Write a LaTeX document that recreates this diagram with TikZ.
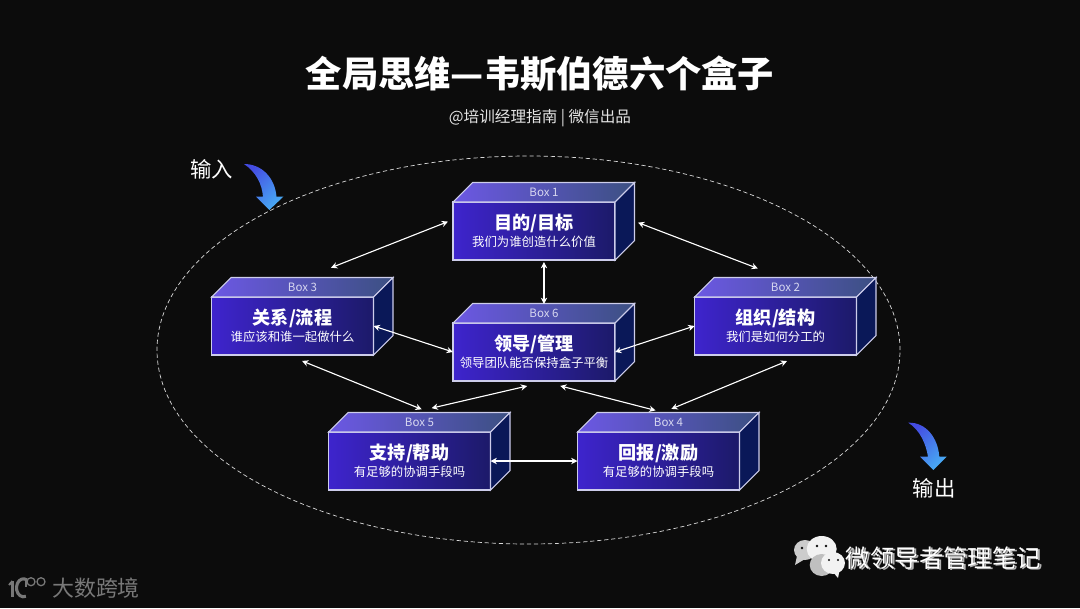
\documentclass[tikz,border=0pt]{standalone}
\usepackage{fontspec}
\setmainfont{Noto Sans CJK SC}
\usepackage{xcolor}
\usetikzlibrary{shapes.geometric, arrows.meta, positioning, calc}
\definecolor{pagedark}{RGB}{12,12,12}
\definecolor{frontleft}{RGB}{62,36,205}
\definecolor{frontmid}{RGB}{50,30,170}
\definecolor{frontright}{RGB}{28,26,105}
\definecolor{topleft}{RGB}{108,88,228}
\definecolor{topright}{RGB}{60,80,130}
\definecolor{sidenavy}{RGB}{10,24,88}
\definecolor{edgeline}{RGB}{205,205,235}
\definecolor{labelgray}{RGB}{215,215,240}
\definecolor{logogray}{RGB}{120,120,120}
\definecolor{flowviolet}{RGB}{68,76,226}
\definecolor{flowblue}{RGB}{72,170,244}
\def\px{0.025cm}
% one box: name, x, y, box label, title, line below the title
\newcommand{\cubebox}[6]{
  \node[frontface] (#1) at (#2,#3) {{\fontsize{12.9}{15}\selectfont\bfseries #5}\\{\fontsize{8.8}{10}\selectfont #6}};
  \draw[topface] (#1.north west) -- ++(19.5,-19.5) -- ++(162,0) -- (#1.north east) -- cycle;
  \draw[sideface] (#1.north east) -- ++(19.5,-19.5) -- ++(0,58) -- (#1.south east) -- cycle;
  \node[boxlabel] (#1label) at ($(#1.north)+(10,-10)$) {#4};
}
\begin{document}
\begin{tikzpicture}[x=\px, y=-\px,
  frontface/.style={rectangle, draw=edgeline, line width=0.75pt, left color=frontleft, middle color=frontmid, right color=frontright, minimum width=162*\px, minimum height=58*\px, inner sep=0pt, outer sep=0pt, align=center, text=white},
  topface/.style={draw=edgeline, line width=0.75pt, left color=topleft, right color=topright},
  sideface/.style={draw=edgeline, line width=0.75pt, fill=sidenavy},
  boxlabel/.style={font=\fontsize{8.2}{10}\selectfont, text=labelgray, inner sep=0pt},
  link/.style 2 args={{Stealth[length=4.5pt,width=4.5pt]}-{Stealth[length=4.5pt,width=4.5pt]}, white, line width=0.8pt, shorten <=#1*\px, shorten >=#2*\px},
  flow/.style={left color=flowviolet, right color=flowblue, shading angle=45, draw=none},
  lbl/.style={text=white, inner sep=0pt, align=center},
]
  \fill[pagedark] (0,0) rectangle (1080,608);
  \useasboundingbox (0,0) rectangle (1080,608);

  % Title
  \node[lbl, font=\fontsize{25.8}{30}\selectfont\bfseries] (title) at (540,74) {全局思维—韦斯伯德六个盒子};
  \node[lbl, font=\fontsize{11.1}{13}\selectfont, text=white!90!black] (subtitle) at (540,118) {@培训经理指南 | 微信出品};

  % Outer field
  \node[ellipse, draw=white!85!black, densely dashed, line width=0.5pt, minimum width=743*\px, minimum height=388*\px, inner sep=0pt] (field) at (528.5,350) {};

  % Boxes
  \cubebox{box1}{534}{231}{Box 1}{目的/目标}{我们为谁创造什么价值}
  \cubebox{box2}{775.5}{326}{Box 2}{组织/结构}{我们是如何分工的}
  \cubebox{box3}{292.5}{326}{Box 3}{关系/流程}{谁应该和谁一起做什么}
  \cubebox{box4}{658.5}{461}{Box 4}{回报/激励}{有足够的协调手段吗}
  \cubebox{box5}{409.5}{461}{Box 5}{支持/帮助}{有足够的协调手段吗}
  \cubebox{box6}{534}{352}{Box 6}{领导/管理}{领导团队能否保持盒子平衡}

  % Links
  \draw[link={5.4}{79.9}] (box1.172.3) -- (box3.141.8);
  \draw[link={24.7}{79.9}] (box1.12.5) -- (box2.27.8);
  \draw[link={2}{19}] (box1.-71.9) -- (box6.71.9);
  \draw[link={0}{0}] (box3.east) -- (box6.west);
  \draw[link={0}{0}] (box6.east) -- (box2.west);
  \draw[link={15.8}{60.5}] (box3.-100) -- (box5.23.9);
  \draw[link={15.8}{60.5}] (box2.-48) -- (box4.146.9);
  \draw[link={105.8}{22.2}] (box5.north west) -- (box6.-63.3);
  \draw[link={19.6}{86.7}] (box6.-76.4) -- (box4.north east);
  \draw[link={0}{0}] (box5.east) -- (box4.west);

  % Input and output
  \node[lbl, font=\fontsize{15.2}{18}\selectfont] (inlabel) at (211.5,169) {输入};
  \shade[flow] (244,164) .. controls (262,164) and (275,178) .. (276.5,196.7) -- (283.3,196.7) -- (269.3,210) -- (256,196.7) -- (263,196.7) .. controls (262,184) and (256,172) .. (244,164) -- cycle;
  \node[lbl, font=\fontsize{15.2}{18}\selectfont] (outlabel) at (934,488) {输出};
  \shade[flow] (908.3,422.7) .. controls (926,422) and (938,438) .. (939.3,456.7) -- (946.7,456.7) -- (933.3,470) -- (920,456.7) -- (928,456.7) .. controls (926,444) and (920,430) .. (908.3,422.7) -- cycle;

  % Logo, bottom left
  \draw[logogray, line width=2.2pt] (12.5,581) -- (12.5,597);
  \draw[logogray, line width=1.4pt] (9,585) -- (12.5,581);
  \draw[logogray, line width=2.2pt] (27,580) arc (-60:-290:7 and 9);
  \draw[logogray, line width=0.9pt] (26,578) -- (26,587);
  \draw[logogray, line width=0.9pt] (31,581.7) circle (4);
  \draw[logogray, line width=0.9pt] (41,581.7) circle (4);
  \node[lbl, text=logogray, font=\fontsize{15.6}{18}\selectfont] (brand) at (96,588) {大数跨境};

  % Mark, bottom right
  \fill[white!80!black] (805,550) ellipse (11 and 10);
  \fill[white!80!black] (797,556) -- (795,565) -- (805,559) -- cycle;
  \fill[white!95!black] (821.7,549) ellipse (15 and 13);
  \fill[white!75!black] (821.7,565) ellipse (12 and 11);
  \fill[white!95!black] (833,563) ellipse (12 and 11);
  \fill[white!95!black] (833,572) -- (838,578) -- (840,568) -- cycle;
  \fill[pagedark] (802,548) circle (1.4) (817,546) circle (1.4) (826,546) circle (1.4) (829,560) circle (1.2) (838,560) circle (1.2);
  \node[lbl, text=white!70!black, font=\fontsize{17.4}{20}\selectfont] (markback) at (945.5,559.5) {微领导者管理笔记};
  \node[lbl, font=\fontsize{17.4}{20}\selectfont] (markfront) at (943.5,558.5) {微领导者管理笔记};
\end{tikzpicture}
\end{document}
